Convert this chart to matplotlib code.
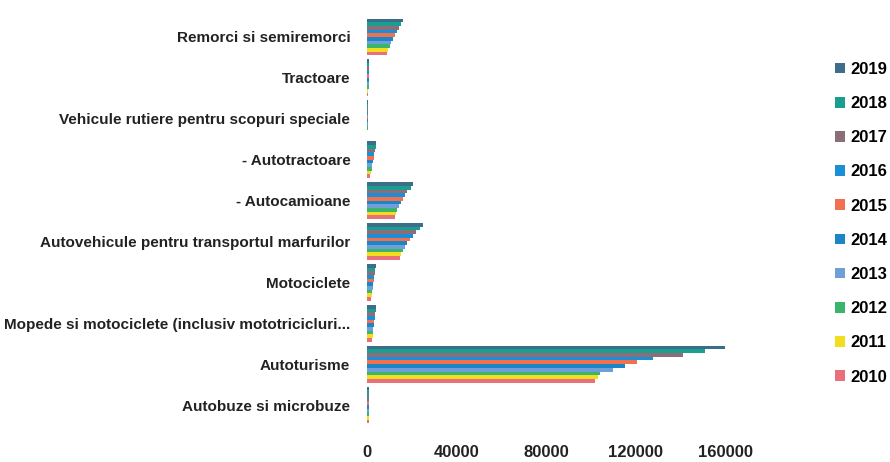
import matplotlib.pyplot as plt
import numpy as np

plt.rcParams['font.family'] = ['Liberation Sans', 'DejaVu Sans']

# categories, top to bottom as shown
categories = [
    "Remorci si semiremorci",
    "Tractoare",
    "Vehicule rutiere pentru scopuri speciale",
    "- Autotractoare",
    "- Autocamioane",
    "Autovehicule pentru transportul marfurilor",
    "Motociclete",
    "Mopede si motociclete (inclusiv mototricicluri...",
    "Autoturisme",
    "Autobuze si microbuze",
]
years = [2010, 2011, 2012, 2013, 2014, 2015, 2016, 2017, 2018, 2019]

v2010 = [9000, 600, 200, 1500, 12500, 14800, 2000, 2300, 101900, 700]
v2011 = [9600, 650, 220, 1800, 13000, 15400, 2200, 2500, 103300, 750]
v2012 = [10200, 700, 240, 2100, 13500, 16000, 2400, 2700, 104200, 800]
v2013 = [10800, 720, 250, 2400, 14200, 16900, 2600, 2900, 110000, 820]
v2014 = [11500, 750, 260, 2700, 15000, 17900, 2800, 3100, 115300, 850]
v2015 = [12300, 780, 270, 3000, 16000, 19000, 3000, 3300, 120700, 880]
v2016 = [13200, 800, 280, 3300, 17000, 20400, 3200, 3500, 127900, 900]
v2017 = [14200, 850, 290, 3600, 18000, 21900, 3400, 3700, 141300, 950]
v2018 = [15200, 900, 300, 3900, 19500, 23500, 3600, 3900, 151100, 980]
v2019 = [16200, 950, 320, 4200, 20500, 25000, 3800, 4100, 160000, 1000]
series = [v2010, v2011, v2012, v2013, v2014, v2015, v2016, v2017, v2018, v2019]

colors = ['#e8707a', '#f2de1e', '#3bb56b', '#6f9fd6', '#1a86c8',
          '#f07050', '#1b8fd6', '#8a6f7a', '#1a9e8f', '#3c6e8a']

fig = plt.figure(figsize=(8.9, 4.62), dpi=100)
ax = fig.add_axes([367 / 890, 36.5 / 462, 403 / 890, 409 / 462])

n = len(categories)
y = np.arange(n)[::-1]  # first category at top
h = 0.09
for j, (yr, vals) in enumerate(zip(years, series)):
    ax.barh(y + (j - 4.5) * h, vals, height=h, color=colors[j], label=str(yr))

ax.set_ylim(-0.5, n - 0.5)
ax.set_xlim(0, 180000)
ax.set_xticks([0, 40000, 80000, 120000, 160000])
ax.set_xticklabels(['0', '40000', '80000', '120000', '160000'],
                   fontsize=12, fontweight='bold', color='#222222')
ax.set_yticks(y)
ax.set_yticklabels(categories, fontsize=11, fontweight='bold', color='#222222')
ax.tick_params(length=0, pad=12)
ax.tick_params(axis='x', pad=14)
for s in ax.spines.values():
    s.set_visible(False)

handles, labels = ax.get_legend_handles_labels()
fig.legend(handles[::-1], labels[::-1], loc='upper left',
           bbox_to_anchor=(820 / 890, 1 - 47 / 462), frameon=False,
           prop={'size': 12, 'weight': 'bold'}, handlelength=0.6,
           handleheight=0.6, handletextpad=0.3, labelspacing=1.15)

fig.savefig('out.png', dpi=100)
